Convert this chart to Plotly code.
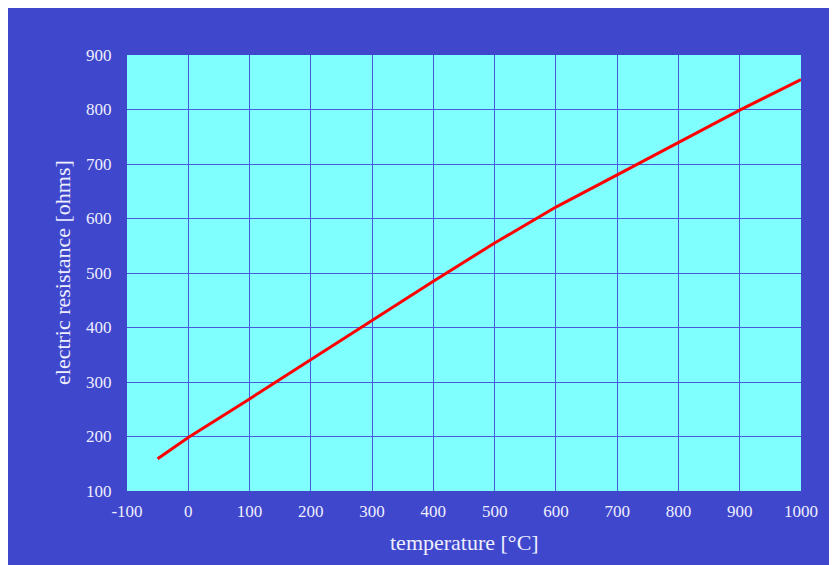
import plotly.graph_objects as go

temperature_c = [-50, 0, 100, 200, 300, 400, 500, 600, 700, 800, 900, 1000]
resistance_ohm = [159, 198, 269, 341, 413, 485, 555, 621, 680, 739, 799, 855]

x_ticks = [-100, 0, 100, 200, 300, 400, 500, 600, 700, 800, 900, 1000]
y_ticks = [100, 200, 300, 400, 500, 600, 700, 800, 900]

BLUE = "#3f48cc"
CYAN = "#80ffff"
GRID = "#4a5ade"
TXT = "#eeeeff"
FONT = "Liberation Serif"

fig = go.Figure()
fig.add_trace(go.Scatter(
    x=temperature_c, y=resistance_ohm, mode="lines",
    line=dict(color="#ff0000", width=3), showlegend=False,
))

W, H = 829, 557
L, R, T, B = 119, 36, 47, 74
pw, ph = W - L - R, H - T - B

fig.update_layout(
    width=W, height=H,
    margin=dict(l=L, r=R, t=T, b=B, pad=0),
    paper_bgcolor=BLUE,
    plot_bgcolor=CYAN,
    font=dict(family=FONT, color=TXT, size=17),
    xaxis=dict(
        range=[-100, 1000], tickvals=x_ticks, ticktext=[str(v) for v in x_ticks],
        showgrid=True, gridcolor=GRID, gridwidth=1, zeroline=False,
        ticks="outside", ticklen=5, tickcolor="rgba(0,0,0,0)",
        showline=False, tickfont=dict(size=17, color=TXT, family=FONT),
    ),
    yaxis=dict(
        range=[100, 900], tickvals=y_ticks, ticktext=[str(v) for v in y_ticks],
        showgrid=True, gridcolor=GRID, gridwidth=1, zeroline=False,
        ticks="outside", ticklen=11, tickcolor="rgba(0,0,0,0)",
        showline=False, tickfont=dict(size=17, color=TXT, family=FONT),
    ),
    annotations=[
        dict(text="temperature [°C]", xref="paper", yref="paper",
             x=0.5, y=-(534 - (T + ph)) / ph, xanchor="center", yanchor="middle",
             showarrow=False, font=dict(size=22, color=TXT, family=FONT)),
        dict(text="electric resistance [ohms]", xref="paper", yref="paper",
             x=(54 - L) / pw, y=0.5, xanchor="center", yanchor="middle",
             textangle=-90, showarrow=False,
             font=dict(size=22, color=TXT, family=FONT)),
    ],
)

fig.write_html(
    "out.html",
    post_script="document.documentElement.style.overflow='hidden';"
                "document.body.style.overflow='hidden';",
)
